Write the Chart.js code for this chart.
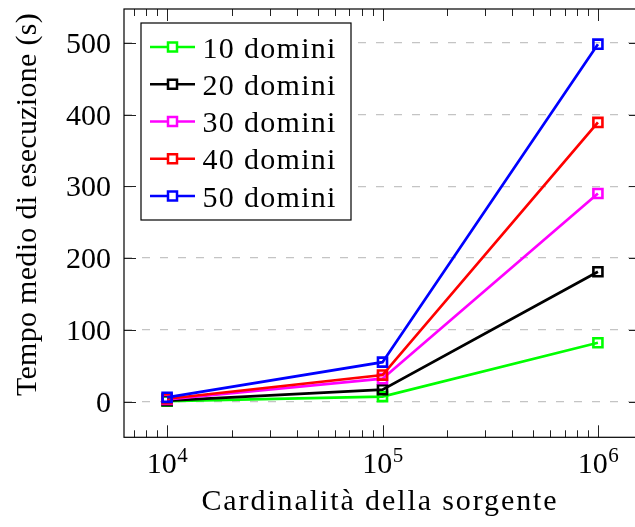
<!DOCTYPE html>
<html>
<head>
<meta charset="utf-8">
<script src="https://cdn.jsdelivr.net/npm/chart.js@4/dist/chart.umd.min.js"></script>
<style>
html,body{margin:0;padding:0;background:#fff;overflow:hidden;width:635px;height:527px;}
canvas{display:block;}
#pre{position:absolute;left:-1000px;top:0;font-family:"Liberation Serif";font-size:30px;}
</style>
</head>
<body>
<div id="pre">Tempo 0123456789</div>
<canvas id="c" width="650" height="527"></canvas>
<script>
// ---- data ----
const xValues = [1e4, 1e5, 1e6];
const seriesLabels = ['10 domini', '20 domini', '30 domini', '40 domini', '50 domini'];
const seriesColors = ['#00ff00', '#000000', '#ff00ff', '#ff0000', '#0000ff'];
const d10 = [0.8, 7, 82];
const d20 = [1.5, 16.6, 181];
const d30 = [3, 32, 290];
const d40 = [4, 37, 389];
const d50 = [6, 55, 498];
const seriesValues = [d10, d20, d30, d40, d50];
const yTicks = [0, 100, 200, 300, 400, 500];
const xTickBase = '10';
const xTickExponents = ['4', '5', '6'];
const xTitle = 'Cardinalità della sorgente';
const yTitle = 'Tempo medio di esecuzione (s)';

const FONT = '"Liberation Serif", "DejaVu Serif", serif';

function build() {
  const datasets = seriesValues.map((vals, i) => ({
    label: seriesLabels[i],
    data: vals.map((v, j) => ({x: xValues[j], y: v})),
    borderColor: seriesColors[i],
    backgroundColor: 'rgba(0,0,0,0)',
    borderWidth: 2.7,
    tension: 0,
    pointStyle: 'rect',
    pointRadius: 6.4,
    pointBorderWidth: 2.6,
    pointBackgroundColor: 'rgba(0,0,0,0)',
    pointBorderColor: seriesColors[i],
    order: seriesValues.length - 1 - i
  }));

  const setLS = (ctx, v) => { if ('letterSpacing' in ctx) ctx.letterSpacing = v + 'px'; };

  const pgfPlugin = {
    id: 'pgf',
    afterDraw(chart) {
      const ctx = chart.ctx;
      const ca = chart.chartArea;
      const xs = chart.scales.x, ys = chart.scales.y;
      ctx.save();
      // inward ticks
      ctx.strokeStyle = '#222';
      ctx.lineWidth = 1;
      const tick = (x1, y1, x2, y2) => { ctx.beginPath(); ctx.moveTo(x1, y1); ctx.lineTo(x2, y2); ctx.stroke(); };
      xValues.forEach(v => {
        const px = Math.round(xs.getPixelForValue(v)) + 0.5;
        tick(px, ca.bottom, px, ca.bottom - 12);
        tick(px, ca.top, px, ca.top + 12);
      });
      for (let e = 3; e <= 6; e++) {
        for (let k = 2; k <= 9; k++) {
          const v = k * Math.pow(10, e);
          if (v <= xs.min || v >= xs.max) continue;
          const px = Math.round(xs.getPixelForValue(v)) + 0.5;
          tick(px, ca.bottom, px, ca.bottom - 7);
          tick(px, ca.top, px, ca.top + 7);
        }
      }
      yTicks.forEach(v => {
        const py = Math.round(ys.getPixelForValue(v)) + 0.5;
        tick(ca.left, py, ca.left + 12, py);
        tick(ca.right, py, ca.right - 12, py);
      });
      // frame
      ctx.strokeStyle = '#000';
      ctx.lineWidth = 1.2;
      ctx.strokeRect(ca.left, ca.top, ca.right - ca.left, ca.bottom - ca.top);

      ctx.fillStyle = '#000';
      ctx.textBaseline = 'alphabetic';
      // y tick labels
      ctx.font = '30px ' + FONT;
      ctx.textAlign = 'right';
      yTicks.forEach(v => {
        const py = ys.getPixelForValue(v);
        ctx.fillText(String(v), ca.left - 13, py + 10);
      });
      // x tick labels with superscripts
      xValues.forEach((v, i) => {
        const px = xs.getPixelForValue(v);
        ctx.font = '30px ' + FONT;
        const wb = ctx.measureText(xTickBase).width;
        ctx.font = '21px ' + FONT;
        const we = ctx.measureText(xTickExponents[i]).width;
        const x0 = px - (wb + we) / 2;
        ctx.font = '30px ' + FONT;
        ctx.textAlign = 'left';
        ctx.fillText(xTickBase, x0, ca.bottom + 36);
        ctx.font = '21px ' + FONT;
        ctx.fillText(xTickExponents[i], x0 + wb + 0.5, ca.bottom + 24.5);
      });
      // axis titles
      ctx.font = '30px ' + FONT;
      ctx.textAlign = 'center';
      setLS(ctx, 1.9);
      ctx.fillText(xTitle, 379 + 1, ca.bottom + 73);
      setLS(ctx, 0.3);
      ctx.save();
      ctx.translate(36, 204.5);
      ctx.rotate(-Math.PI / 2);
      ctx.fillText(yTitle, 0, 0);
      ctx.restore();
      setLS(ctx, 0);

      // legend
      const lx = ca.left + 17, ly = ca.top + 14, lw = 210, lh = 197;
      ctx.fillStyle = '#fff';
      ctx.fillRect(lx, ly, lw, lh);
      ctx.strokeStyle = '#000';
      ctx.lineWidth = 1.2;
      ctx.strokeRect(lx, ly, lw, lh);
      seriesLabels.forEach((lab, i) => {
        const cy = ly + 24 + i * 37.25;
        ctx.strokeStyle = seriesColors[i];
        ctx.lineWidth = 2.7;
        ctx.beginPath();
        ctx.moveTo(lx + 9, cy);
        ctx.lineTo(lx + 54, cy);
        ctx.stroke();
        ctx.lineWidth = 2.5;
        ctx.fillStyle = '#fff';
        ctx.fillRect(lx + 31.5 - 4.5, cy - 4.5, 9, 9);
        ctx.strokeRect(lx + 31.5 - 4.5, cy - 4.5, 9, 9);
        ctx.fillStyle = '#000';
        ctx.font = '30px ' + FONT;
        ctx.textAlign = 'left';
        setLS(ctx, 1.3);
        ctx.fillText(lab, lx + 61.5, cy + 10.5);
        setLS(ctx, 0);
      });
      ctx.restore();
    }
  };

  new Chart(document.getElementById('c'), {
    type: 'line',
    data: {datasets},
    options: {
      responsive: false,
      devicePixelRatio: 1,
      animation: false,
      layout: {padding: {top: 7, right: 7.5, left: 0, bottom: 0}},
      plugins: {legend: {display: false}, tooltip: {enabled: false}},
      scales: {
        x: {
          type: 'logarithmic',
          min: Math.pow(10, 3.8),
          max: Math.pow(10, 6.2),
          afterBuildTicks: s => { s.ticks = xValues.map(v => ({value: v})); },
          afterFit: s => { s.height = 89.7; s.paddingLeft = 0; s.paddingRight = 0; },
          ticks: {display: false},
          grid: {display: false, drawTicks: false},
          border: {display: false}
        },
        y: {
          type: 'linear',
          min: -49.7,
          max: 547,
          afterBuildTicks: s => { s.ticks = yTicks.map(v => ({value: v})); },
          afterFit: s => { s.width = 124; s.paddingTop = 0; s.paddingBottom = 0; },
          ticks: {display: false},
          grid: {color: '#c4c4c4', lineWidth: 1.2, drawTicks: false},
          border: {display: false, dash: [8, 10]}
        }
      }
    },
    plugins: [pgfPlugin]
  });
}

if (document.fonts && document.fonts.load) {
  Promise.all([
    document.fonts.load('30px "Liberation Serif"'),
    document.fonts.load('21px "Liberation Serif"')
  ]).then(build, build);
} else {
  build();
}
</script>
</body>
</html>
